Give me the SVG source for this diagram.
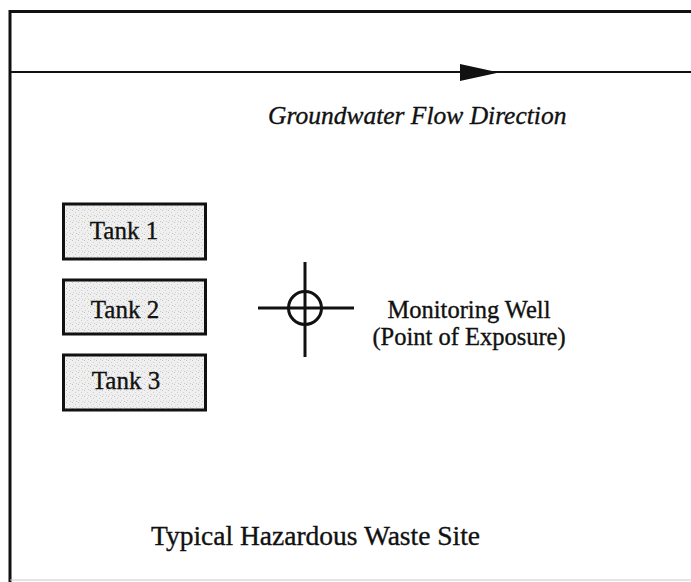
<svg xmlns="http://www.w3.org/2000/svg" width="691" height="582" viewBox="0 0 691 582">
  <defs>
    <!-- light stipple used inside the tank boxes -->
    <pattern id="stipple" width="6" height="6" patternUnits="userSpaceOnUse">
      <rect width="6" height="6" fill="#efefef"/>
      <rect x="0" y="0" width="1" height="1" fill="#c4c4c4"/>
      <rect x="3" y="2" width="1" height="1" fill="#cfcfcf"/>
      <rect x="1" y="4" width="1" height="1" fill="#d4d4d4"/>
      <rect x="4" y="5" width="1" height="1" fill="#c9c9c9"/>
    </pattern>
    <style>
      .frame { stroke: #111; fill: none; }
      .tank rect { fill: url(#stipple); stroke: #111; stroke-width: 3; }
      .serif { font-family: "Liberation Serif", "Times New Roman", serif; fill: #111; stroke: #111; stroke-width: 0.35; }
      .tank text { font-size: 25px; text-anchor: middle; }
      .well line, .well circle { stroke: #111; stroke-width: 3; fill: none; }
    </style>
  </defs>

  <rect width="691" height="582" fill="#fff"/>

  <!-- site boundary -->
  <g id="frame">
    <line class="frame" x1="9" y1="11.5" x2="691" y2="11.5" stroke-width="3"/>
    <line class="frame" x1="10" y1="10" x2="10" y2="582" stroke-width="3"/>
    <line x1="10" y1="580" x2="691" y2="580" stroke="#c8c8c8" stroke-width="1"/>
  </g>

  <!-- groundwater flow direction arrow -->
  <g id="connectors">
    <line x1="9" y1="72" x2="691" y2="72" stroke="#111" stroke-width="2.2"/>
    <polygon points="460,64 460,81 499,72.5" fill="#111"/>
  </g>
  <text id="flow-label" class="serif" x="268" y="124" font-size="25.5" font-style="italic">Groundwater Flow Direction</text>

  <g id="tank1" class="tank serif">
    <rect x="63.5" y="204" width="142" height="55"/>
    <text x="124" y="239">Tank 1</text>
  </g>
  <g id="tank2" class="tank serif">
    <rect x="63.5" y="280" width="142" height="54"/>
    <text x="125" y="318">Tank 2</text>
  </g>
  <g id="tank3" class="tank serif">
    <rect x="63.5" y="355" width="142" height="55"/>
    <text x="126" y="389">Tank 3</text>
  </g>

  <!-- monitoring well symbol -->
  <g id="well" class="well">
    <line x1="258" y1="308" x2="354" y2="308"/>
    <line x1="305" y1="262" x2="305" y2="357"/>
    <circle cx="305" cy="308" r="16.5"/>
  </g>
  <g id="well-label" class="serif" font-size="24.5" text-anchor="middle">
    <text x="469" y="318">Monitoring Well</text>
    <text x="469" y="345">(Point of Exposure)</text>
  </g>

  <text id="site-title" class="serif" x="151" y="545" font-size="27.5">Typical Hazardous Waste Site</text>
</svg>
